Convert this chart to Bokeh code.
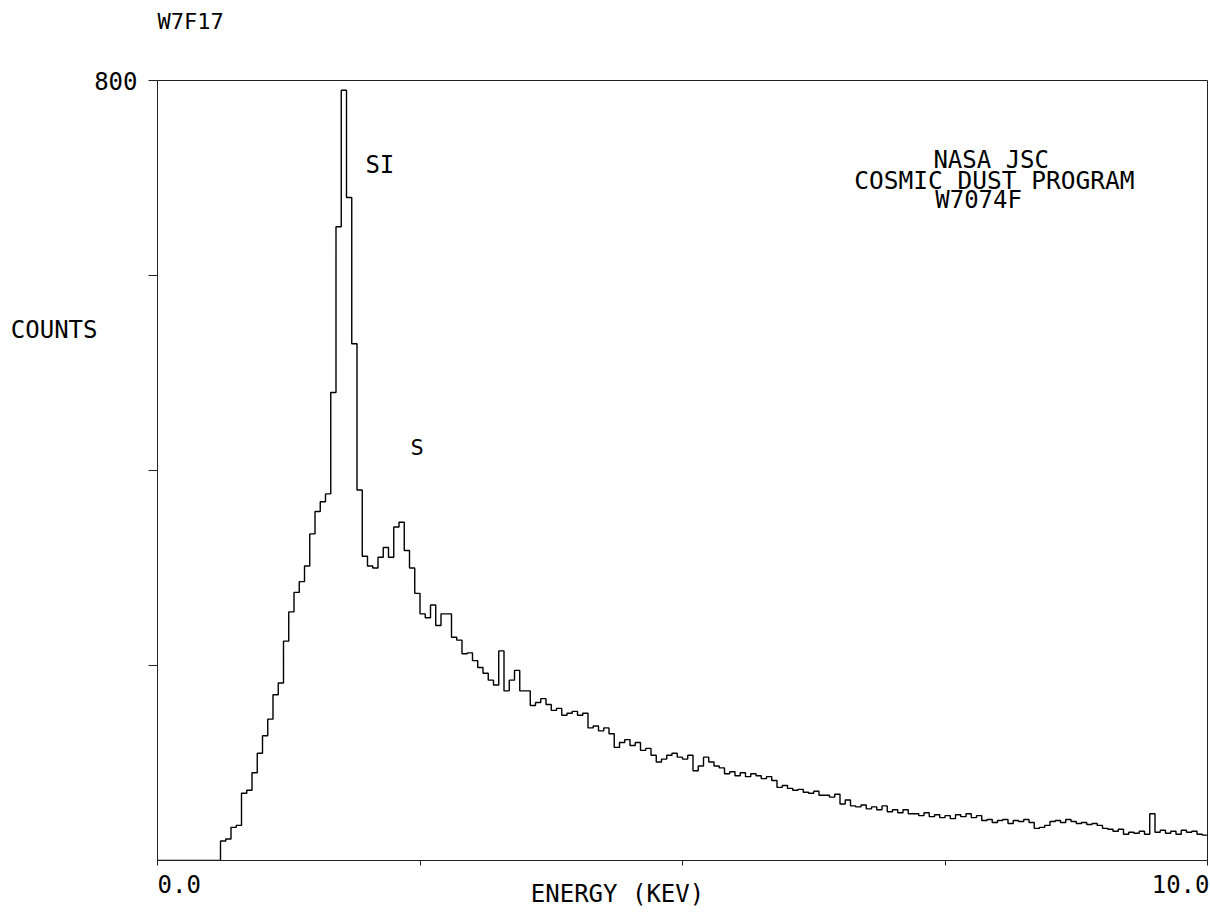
import numpy as np
from bokeh.plotting import figure
from bokeh.models import Range1d, FixedTicker, Label, LinearAxis
from bokeh.embed import file_html
from bokeh.resources import INLINE

# ---- data -------------------------------------------------------------
BIN_WIDTH_KEV = 0.05
counts = [
    0, 0, 0, 0, 0, 0, 0, 0, 0, 0,
    0, 0, 20, 22, 34, 36, 69, 72, 90, 110,
    128, 145, 170, 182, 225, 255, 275, 286, 302, 335,
    358, 368, 376, 480, 650, 790, 680, 530, 380, 312,
    302, 300, 311, 321, 311, 342, 347, 318, 300, 274,
    253, 249, 262, 241, 253, 253, 229, 226, 212, 213,
    205, 198, 192, 185, 180, 215, 174, 185, 195, 174,
    174, 159, 162, 166, 160, 154, 156, 149, 151, 153,
    149, 151, 136, 138, 133, 136, 130, 116, 121, 124,
    118, 121, 113, 115, 108, 101, 104, 108, 110, 106,
    104, 108, 92, 97, 106, 101, 97, 95, 89, 91,
    87, 90, 86, 89, 87, 84, 86, 82, 75, 77,
    74, 72, 73, 70, 69, 71, 67, 67, 65, 68,
    58, 62, 56, 55, 57, 53, 55, 52, 56, 50,
    52, 49, 52, 48, 48, 46, 49, 45, 47, 44,
    46, 43, 47, 45, 48, 44, 46, 41, 42, 39,
    41, 42, 38, 41, 40, 42, 39, 33, 34, 36,
    40, 41, 39, 42, 40, 38, 39, 37, 38, 36,
    33, 32, 30, 32, 27, 29, 28, 30, 27, 48,
    29, 31, 28, 30, 27, 31, 29, 30, 27, 26,
]
y_ticks = [200, 400, 600, 800]
y_tick_labels = ["", "", "", "800"]
x_ticks = [0.0, 2.5, 5.0, 7.5, 10.0]
x_tick_labels = ["0.0", "", "", "", "10.0"]
x_limits = [0.0, 10.0]
y_limits = [0, 800]

title_text = "W7F17"
x_title = "ENERGY (KEV)"
y_title = "COUNTS"
info_lines = ["NASA JSC", "COSMIC DUST PROGRAM", "W7074F"]
peak_names = ["SI", "S"]

# ---- figure -----------------------------------------------------------
FONT = "DejaVu Sans Mono"
FS = "24px"
NB = "\u00a0"

p = figure(width=1209, height=912, output_backend="svg", toolbar_location=None,
           x_range=Range1d(*x_limits), y_range=Range1d(*y_limits),
           min_border_left=157, min_border_right=2, min_border_top=80,
           min_border_bottom=52)
p.background_fill_color = "white"
p.border_fill_color = "white"
p.outline_line_color = "#222222"
p.outline_line_width = 1
p.grid.visible = False

n = len(counts)
edges = np.arange(n + 1) * BIN_WIDTH_KEV
yy = list(counts) + [counts[-1]]
p.step(edges, yy, mode="after", line_color="black", line_width=1.4)

# main axes (grab them before extra axes are added)
ya = p.left[0]
xa = p.below[0]

# y axis
ya.ticker = FixedTicker(ticks=y_ticks)
ya.major_label_overrides = dict(zip(y_ticks, y_tick_labels))
ya.major_tick_out = 9
ya.major_tick_in = 0
ya.minor_tick_out = 0
ya.minor_tick_in = 0
ya.major_label_standoff = 11
ya.major_label_text_font = FONT
ya.major_label_text_font_size = FS
ya.major_label_text_color = "black"
ya.axis_line_color = "#222222"
ya.major_tick_line_color = "#222222"

# x axis: "0.0" padded so it sits flush with the left corner
xa.ticker = FixedTicker(ticks=x_ticks)
pads = {0: NB * 3 + x_tick_labels[0]}
xa.major_label_overrides = {t: pads.get(i, lab) for i, (t, lab) in enumerate(zip(x_ticks, x_tick_labels))}
xa.major_tick_out = 5
xa.major_tick_in = 0
xa.minor_tick_out = 0
xa.minor_tick_in = 0
xa.major_label_standoff = 5
xa.major_label_text_font = FONT
xa.major_label_text_font_size = FS
xa.major_label_text_color = "black"
xa.axis_line_color = "#222222"
xa.major_tick_line_color = "#222222"
xa.axis_label = x_title + NB * 9
xa.axis_label_text_font = FONT
xa.axis_label_text_font_size = FS
xa.axis_label_text_font_style = "normal"
xa.axis_label_text_color = "black"
xa.axis_label_standoff = -22

# horizontal "COUNTS" title, drawn as an extra (line-less) left axis
COUNTS_AT = 544
ya2 = LinearAxis(ticker=FixedTicker(ticks=[COUNTS_AT]),
                 major_label_overrides={COUNTS_AT: y_title},
                 axis_line_color=None, major_tick_line_color=None,
                 minor_tick_line_color=None, major_tick_out=0, major_tick_in=0,
                 major_label_standoff=-6, major_label_text_font=FONT,
                 major_label_text_font_size=FS, major_label_text_color="black")
p.add_layout(ya2, "left")

# sheet title "W7F17" high above the frame's left corner (line-less top axis)
xt = LinearAxis(ticker=FixedTicker(ticks=[x_limits[0]]),
                major_label_overrides={x_limits[0]: NB * 5 + title_text},
                axis_line_color=None, major_tick_line_color=None,
                minor_tick_line_color=None, major_tick_out=0, major_tick_in=0,
                major_label_standoff=47, major_label_text_font=FONT,
                major_label_text_font_size="22px", major_label_text_color="black")
p.add_layout(xt, "above")

def lab(x, y, text, align="left", size=FS):
    p.add_layout(Label(x=x, y=y, text=text, text_font=FONT, text_font_size=size,
                       text_align=align, text_baseline="middle", text_color="black"))

# info block
lab(7.94, 718, info_lines[0], "center")
lab(7.97, 697, info_lines[1], "center", "24.5px")
lab(7.82, 677, info_lines[2], "center")
# peak labels
lab(1.98, 713, peak_names[0], "left")
lab(2.41, 424, peak_names[1], "left", "22px")

open("out.html", "w").write(file_html(p, INLINE))
